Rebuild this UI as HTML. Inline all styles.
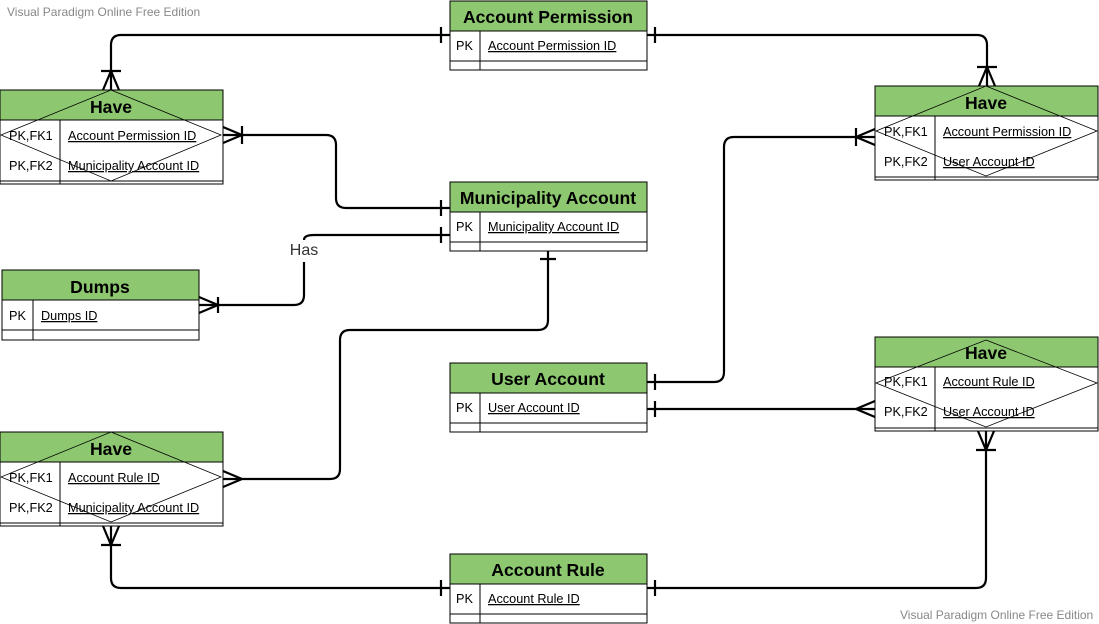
<!DOCTYPE html>
<html><head><meta charset="utf-8"><style>
body{margin:0;background:#fff;}
svg{display:block;font-family:"Liberation Sans",Arial,sans-serif;}
.h{font-size:17.6px;font-weight:bold;fill:#000;text-anchor:middle}
.t{font-size:12.7px;fill:#000}
.u{font-size:12.7px;fill:#000;text-decoration:underline}
.c{fill:none;stroke:#000;stroke-width:2.2}
.b{fill:#fff;stroke:#000;stroke-width:1}
.d{fill:none;stroke:#000;stroke-width:0.8}
</style></head><body>
<svg width="1099" height="624" viewBox="0 0 1099 624">
<text x="7" y="16" font-size="12" fill="#888">Visual Paradigm Online Free Edition</text>
<text x="900" y="619" font-size="12" fill="#888">Visual Paradigm Online Free Edition</text>

<path class="c" d="M450,35 H121 Q111,35 111,45 V90"/>
<path class="c" d="M101,71 H121 M103,90 L111,71 L119,90 M441,27 V43"/>
<path class="c" d="M647,35 H977 Q987,35 987,45 V86"/>
<path class="c" d="M977,67 H997 M979,86 L987,67 L995,86 M655,27 V43"/>
<path class="c" d="M223,135 H326 Q336,135 336,145 V198 Q336,208 346,208 H450"/>
<path class="c" d="M242,126 V144 M223,127 L242,135 L223,143 M441,200 V216"/>
<path class="c" d="M199,305 H294 Q304,305 304,295 V262 M304,240 Q304,235 314,235 H450"/>
<path class="c" d="M218,297 V313 M199,297 L218,305 L199,313 M441,227 V243"/>
<text x="304" y="255" font-size="16" fill="#333" text-anchor="middle">Has</text>
<path class="c" d="M548,251 V320 Q548,330 538,330 H350 Q340,330 340,340 V469 Q340,479 330,479 H223"/>
<path class="c" d="M540,259 H556 M223,471 L242,479 L223,487"/>
<path class="c" d="M647,382 H714 Q724,382 724,372 V147 Q724,137 734,137 H875"/>
<path class="c" d="M655,374 V390 M856,128 V146 M875,129 L856,137 L875,145"/>
<path class="c" d="M647,409 H875"/>
<path class="c" d="M655,401 V417 M875,401 L856,409 L875,417"/>
<path class="c" d="M986,431 V578 Q986,588 976,588 H647"/>
<path class="c" d="M976,450 H996 M978,431 L986,450 L994,431 M655,580 V596"/>
<path class="c" d="M450,588 H121 Q111,588 111,578 V526"/>
<path class="c" d="M101,545 H121 M103,526 L111,545 L119,526 M441,580 V596"/>

<g>
<rect class="b" x="450" y="1" width="197" height="69"/>
<rect x="450" y="1" width="197" height="30" fill="#8dc870" stroke="#000"/>
<line x1="450" y1="61" x2="647" y2="61" stroke="#000"/><line x1="480" y1="31" x2="480" y2="70" stroke="#000"/>
<text class="h" x="548" y="23">Account Permission</text>
<text class="t" x="456" y="50">PK</text><text class="u" x="488" y="50">Account Permission ID</text>
</g>
<g>
<rect class="b" x="450" y="182" width="197" height="69"/>
<rect x="450" y="182" width="197" height="30" fill="#8dc870" stroke="#000"/>
<line x1="450" y1="242" x2="647" y2="242" stroke="#000"/><line x1="480" y1="212" x2="480" y2="251" stroke="#000"/>
<text class="h" x="548" y="204">Municipality Account</text>
<text class="t" x="456" y="231">PK</text><text class="u" x="488" y="231">Municipality Account ID</text>
</g>
<g>
<rect class="b" x="450" y="363" width="197" height="69"/>
<rect x="450" y="363" width="197" height="30" fill="#8dc870" stroke="#000"/>
<line x1="450" y1="423" x2="647" y2="423" stroke="#000"/><line x1="480" y1="393" x2="480" y2="432" stroke="#000"/>
<text class="h" x="548" y="385">User Account</text>
<text class="t" x="456" y="412">PK</text><text class="u" x="488" y="412">User Account ID</text>
</g>
<g>
<rect class="b" x="450" y="554" width="197" height="69"/>
<rect x="450" y="554" width="197" height="30" fill="#8dc870" stroke="#000"/>
<line x1="450" y1="614" x2="647" y2="614" stroke="#000"/><line x1="480" y1="584" x2="480" y2="623" stroke="#000"/>
<text class="h" x="548" y="576">Account Rule</text>
<text class="t" x="456" y="603">PK</text><text class="u" x="488" y="603">Account Rule ID</text>
</g>
<g>
<rect class="b" x="2" y="270" width="197" height="70"/>
<rect x="2" y="270" width="197" height="30" fill="#8dc870" stroke="#000"/>
<line x1="2" y1="330" x2="199" y2="330" stroke="#000"/><line x1="33" y1="300" x2="33" y2="340" stroke="#000"/>
<text class="h" x="100" y="293">Dumps</text>
<text class="t" x="9" y="320">PK</text><text class="u" x="41" y="320">Dumps ID</text>
</g>

<g>
<rect class="b" x="0" y="90" width="223" height="94"/>
<rect x="0" y="90" width="223" height="30" fill="#8dc870" stroke="#000"/>
<line x1="0" y1="181" x2="223" y2="181" stroke="#000"/><line x1="60" y1="120" x2="60" y2="184" stroke="#000"/>
<text class="h" x="111" y="113">Have</text>
<text class="t" x="9" y="140">PK,FK1</text><text class="u" x="68" y="140">Account Permission ID</text>
<text class="t" x="9" y="170">PK,FK2</text><text class="u" x="68" y="170">Municipality Account ID</text>
<path class="d" d="M111,90 L221,135 L111,181 L1,135 Z"/>
</g>
<g>
<rect class="b" x="875" y="86" width="223" height="94"/>
<rect x="875" y="86" width="223" height="30" fill="#8dc870" stroke="#000"/>
<line x1="875" y1="177" x2="1098" y2="177" stroke="#000"/><line x1="935" y1="116" x2="935" y2="180" stroke="#000"/>
<text class="h" x="986" y="109">Have</text>
<text class="t" x="884" y="136">PK,FK1</text><text class="u" x="943" y="136">Account Permission ID</text>
<text class="t" x="884" y="166">PK,FK2</text><text class="u" x="943" y="166">User Account ID</text>
<path class="d" d="M986,86 L1097,131 L986,176 L876,131 Z"/>
</g>
<g>
<rect class="b" x="875" y="337" width="223" height="94"/>
<rect x="875" y="337" width="223" height="30" fill="#8dc870" stroke="#000"/>
<line x1="875" y1="428" x2="1098" y2="428" stroke="#000"/><line x1="935" y1="367" x2="935" y2="431" stroke="#000"/>
<text class="h" x="986" y="359">Have</text>
<text class="t" x="884" y="386">PK,FK1</text><text class="u" x="943" y="386">Account Rule ID</text>
<text class="t" x="884" y="416">PK,FK2</text><text class="u" x="943" y="416">User Account ID</text>
<path class="d" d="M986,340 L1097,383 L986,427 L876,383 Z"/>
</g>
<g>
<rect class="b" x="0" y="432" width="223" height="94"/>
<rect x="0" y="432" width="223" height="30" fill="#8dc870" stroke="#000"/>
<line x1="0" y1="523" x2="223" y2="523" stroke="#000"/><line x1="60" y1="462" x2="60" y2="526" stroke="#000"/>
<text class="h" x="111" y="455">Have</text>
<text class="t" x="9" y="482">PK,FK1</text><text class="u" x="68" y="482">Account Rule ID</text>
<text class="t" x="9" y="512">PK,FK2</text><text class="u" x="68" y="512">Municipality Account ID</text>
<path class="d" d="M111,432 L221,477 L111,522 L1,477 Z"/>
</g>
</svg>
</body></html>
